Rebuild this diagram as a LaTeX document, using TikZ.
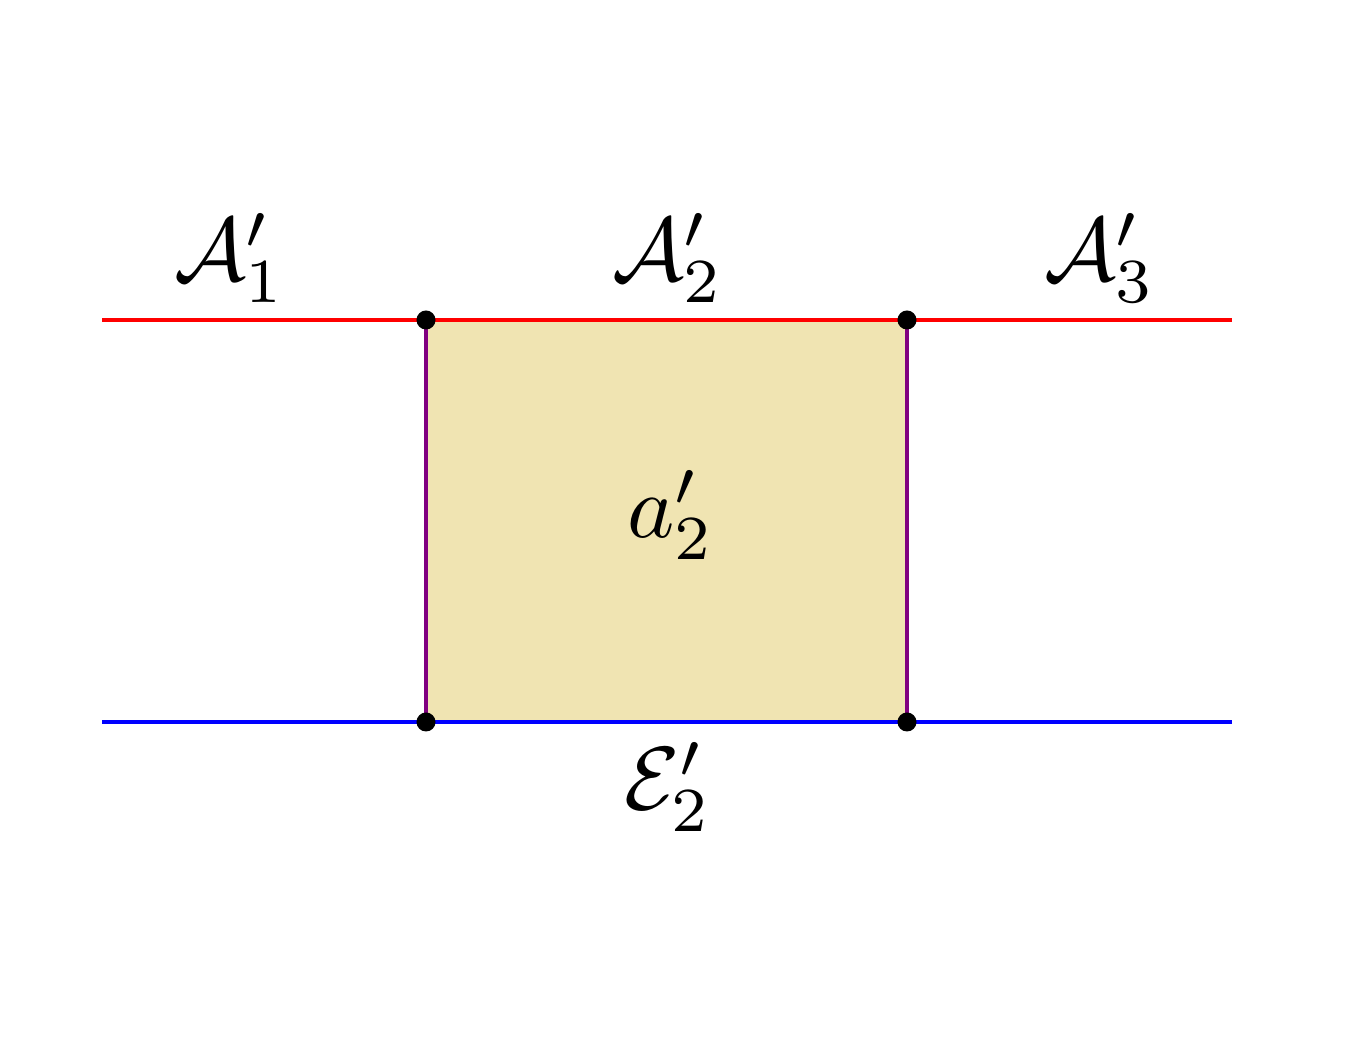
\documentclass[tikz,border=0pt]{standalone}
\definecolor{fillc}{RGB}{240,228,178}
\definecolor{purp}{RGB}{128,0,128}
\tikzset{lab/.style={scale=2.55, inner sep=0pt},
  dot/.style={circle, fill=black, inner sep=0pt, minimum size=0.19cm}}
\begin{document}
\begin{tikzpicture}[x=0.01cm,y=-0.01cm]
\useasboundingbox (0,0) rectangle (1350,1049);
\coordinate (L1) at (102,320);
\coordinate (R1) at (1232,320);
\coordinate (L2) at (102,722);
\coordinate (R2) at (1232,722);
\coordinate (p1) at (426,320);
\coordinate (p2) at (907,320);
\coordinate (p3) at (426,722);
\coordinate (p4) at (907,722);
\fill[fillc] (p1) rectangle (p4);
\draw[purp, line width=1.1pt] (p1) -- (p3);
\draw[purp, line width=1.1pt] (p2) -- (p4);
\draw[red, line width=1.4pt] (L1) -- (R1);
\draw[blue, line width=1.4pt] (L2) -- (R2);
\node[dot] (d1) at (p1) {};
\node[dot] (d2) at (p2) {};
\node[dot] (d3) at (p3) {};
\node[dot] (d4) at (p4) {};
\node[lab] (t1) at (230,258) {$\mathcal{A}_1'$};
\node[lab] (t2) at (668,258) {$\mathcal{A}_2'$};
\node[lab] (t3) at (1100,258) {$\mathcal{A}_3'$};
\node[lab] (t4) at (671,515) {$a_2'$};
\node[lab] (t5) at (668,787) {$\mathcal{E}_2'$};
\end{tikzpicture}
\end{document}
